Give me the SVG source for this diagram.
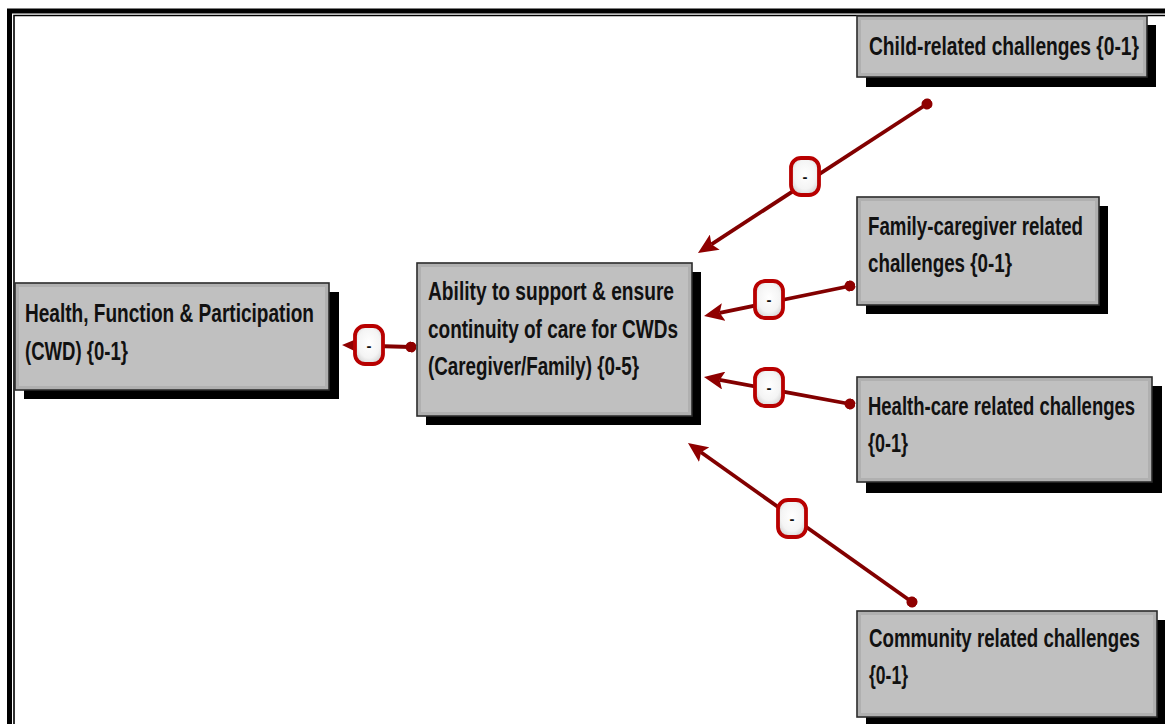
<svg xmlns="http://www.w3.org/2000/svg" width="1165" height="724" viewBox="0 0 1165 724">
  <defs>
    <style>
      .frame-thick { fill: none; stroke: #000; stroke-width: 5; }
      .frame-thin { fill: none; stroke: #000; stroke-width: 1.6; }
      .shadow { fill: #000; }
      .box { fill: #c0c0c0; stroke: #2a2a2a; stroke-width: 1.6; }
      .box-inner { fill: none; stroke: #b0b0b0; stroke-width: 3; }
      .label { font-family: "Liberation Sans", Arial, sans-serif; font-weight: bold; font-size: 25px; fill: #111; }
      .link { fill: none; stroke: #820000; stroke-width: 3.8; marker-start: url(#dot); marker-end: url(#arrow); }
      .sign-box { fill: url(#signFill); stroke: #b80000; stroke-width: 3.8; }
      .sign { font-family: "Liberation Sans", Arial, sans-serif; font-size: 15px; font-weight: bold; fill: #111; text-anchor: middle; }
    </style>
    <radialGradient id="signFill" cx="50%" cy="45%" r="65%">
      <stop offset="0" stop-color="#ffffff"/>
      <stop offset="0.6" stop-color="#f4f4f4"/>
      <stop offset="1" stop-color="#c9c9c9"/>
    </radialGradient>
    <marker id="arrow" viewBox="0 0 20 18" refX="4" refY="9" markerWidth="20" markerHeight="18" markerUnits="userSpaceOnUse" orient="auto">
      <path d="M0,0 L20,9 L0,18 L4,9 Z" fill="#8f0000"/>
    </marker>
    <marker id="dot" viewBox="0 0 11 11" refX="5.5" refY="5.5" markerWidth="11" markerHeight="11" markerUnits="userSpaceOnUse" orient="auto">
      <circle cx="5.5" cy="5.5" r="5.5" fill="#8f0000"/>
    </marker>
  </defs>

  <rect width="1165" height="724" fill="#fff"/>

  <!-- double border along top and left -->
  <path class="frame-thick" d="M9.5,724 V11 H1165"/>
  <path class="frame-thin" d="M14,724 V15.5 H1165"/>

  <!-- connectors -->
  <g id="connectors">
    <path class="link" d="M927,104 L711.4,244.3"/>
    <path class="link" d="M850,286 L719.7,312.8"/>
    <path class="link" d="M850,404 L719.7,379.9"/>
    <path class="link" d="M912,602 L701,452.3"/>
    <path class="link" d="M411,347 L358,345.5"/>

    <g id="sign-child">
      <rect class="sign-box" x="791" y="158" width="28" height="37" rx="10"/>
      <text class="sign" x="805" y="182">-</text>
    </g>
    <g id="sign-family">
      <rect class="sign-box" x="755" y="281" width="28" height="37" rx="10"/>
      <text class="sign" x="769" y="305">-</text>
    </g>
    <g id="sign-healthcare">
      <rect class="sign-box" x="755" y="369" width="28" height="37" rx="10"/>
      <text class="sign" x="769" y="393">-</text>
    </g>
    <g id="sign-community">
      <rect class="sign-box" x="778" y="500" width="28" height="37" rx="10"/>
      <text class="sign" x="792" y="524">-</text>
    </g>
    <g id="sign-health">
      <rect class="sign-box" x="355" y="326" width="28" height="38" rx="10"/>
      <text class="sign" x="369" y="351">-</text>
    </g>
  </g>

  <!-- outcome node (labels are narrowed horizontally to a condensed face) -->
  <g id="node-health">
    <rect class="shadow" x="24" y="292" width="315" height="107"/>
    <rect class="box" x="15" y="283" width="314" height="107"/>
    <rect class="box-inner" x="17.5" y="285.5" width="309" height="102"/>
    <text class="label" transform="translate(25,322) scale(0.77,1)" textLength="375.3" lengthAdjust="spacingAndGlyphs">Health, Function &amp; Participation</text>
    <text class="label" transform="translate(25,360) scale(0.77,1)" textLength="133.8" lengthAdjust="spacingAndGlyphs">(CWD) {0-1}</text>
  </g>

  <!-- central node -->
  <g id="node-ability">
    <rect class="shadow" x="426" y="272" width="275" height="153"/>
    <rect class="box" x="417" y="263" width="275" height="153"/>
    <rect class="box-inner" x="419.5" y="265.5" width="270" height="148"/>
    <text class="label" transform="translate(428,300) scale(0.77,1)" textLength="319.5" lengthAdjust="spacingAndGlyphs">Ability to support &amp; ensure</text>
    <text class="label" transform="translate(428,337.5) scale(0.77,1)" textLength="324.7" lengthAdjust="spacingAndGlyphs">continuity of care for CWDs</text>
    <text class="label" transform="translate(428,375) scale(0.77,1)" textLength="274" lengthAdjust="spacingAndGlyphs">(Caregiver/Family) {0-5}</text>
  </g>

  <!-- challenge nodes -->
  <g id="node-child">
    <rect class="shadow" x="866" y="25" width="290" height="62"/>
    <rect class="box" x="857" y="16" width="290" height="61"/>
    <rect class="box-inner" x="859.5" y="18.5" width="285" height="56"/>
    <text class="label" transform="translate(869,55) scale(0.77,1)" textLength="350.6" lengthAdjust="spacingAndGlyphs">Child-related challenges {0-1}</text>
  </g>

  <g id="node-family">
    <rect class="shadow" x="866" y="206" width="242" height="108"/>
    <rect class="box" x="857" y="197" width="242" height="108"/>
    <rect class="box-inner" x="859.5" y="199.5" width="237" height="103"/>
    <text class="label" transform="translate(868,235) scale(0.77,1)" textLength="279.2" lengthAdjust="spacingAndGlyphs">Family-caregiver related</text>
    <text class="label" transform="translate(868,272) scale(0.77,1)" textLength="187" lengthAdjust="spacingAndGlyphs">challenges {0-1}</text>
  </g>

  <g id="node-healthcare">
    <rect class="shadow" x="866" y="386" width="296" height="107"/>
    <rect class="box" x="857" y="377" width="295" height="105"/>
    <rect class="box-inner" x="859.5" y="379.5" width="290" height="100"/>
    <text class="label" transform="translate(868,415) scale(0.77,1)" textLength="346.8" lengthAdjust="spacingAndGlyphs">Health-care related challenges</text>
    <text class="label" transform="translate(868,452) scale(0.77,1)" textLength="51.9" lengthAdjust="spacingAndGlyphs">{0-1}</text>
  </g>

  <g id="node-community">
    <rect class="shadow" x="866" y="620" width="300" height="106"/>
    <rect class="box" x="857" y="611" width="300" height="106"/>
    <rect class="box-inner" x="859.5" y="613.5" width="295" height="101"/>
    <text class="label" transform="translate(869,647) scale(0.77,1)" textLength="351.9" lengthAdjust="spacingAndGlyphs">Community related challenges</text>
    <text class="label" transform="translate(869,684) scale(0.77,1)" textLength="50.6" lengthAdjust="spacingAndGlyphs">{0-1}</text>
  </g>
</svg>
